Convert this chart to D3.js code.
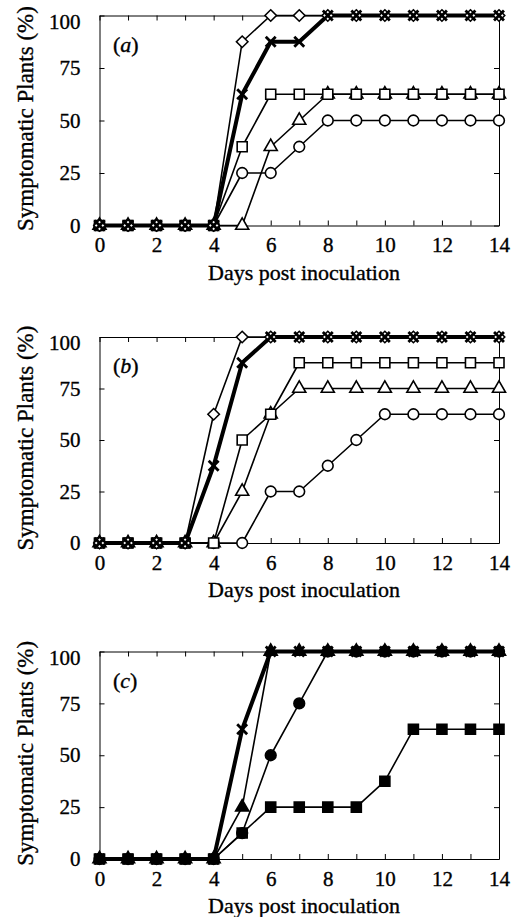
<!DOCTYPE html>
<html><head><meta charset="utf-8">
<script src="https://cdn.jsdelivr.net/npm/d3@7"></script>
<style>
body{margin:0;background:#fff}
svg text{font-family:"Liberation Serif","DejaVu Serif","Times New Roman",Times,serif !important;fill:#000;stroke:#000;stroke-width:0.35px}
</style>
</head><body>
<svg id="chart" width="518" height="917" style="font-family:'Liberation Serif','DejaVu Serif',serif"></svg>
<script>
// ---------- data ----------
const days = [0,1,2,3,4,5,6,7,8,9,10,11,12,13,14];
const xTickLabels = [0,2,4,6,8,10,12,14];
const yTickValues = [0,25,50,75,100];
const panelNames = ["a","b","c"];
const xTitle = "Days post inoculation";
const yTitle = "Symptomatic Plants (%)";

// panel (a) – open symbols
const aCircle   = [0,0,0,0,0,25,25,37.5,50,50,50,50,50,50,50];
const aTriangle = [0,0,0,0,0,0,37.5,50,62.5,62.5,62.5,62.5,62.5,62.5,62.5];
const aSquare   = [0,0,0,0,0,37.5,62.5,62.5,62.5,62.5,62.5,62.5,62.5,62.5,62.5];
const aDiamond  = [0,0,0,0,0,87.5,100,100,100,100,100,100,100,100,100];
const aCross    = [0,0,0,0,0,62.5,87.5,87.5,100,100,100,100,100,100,100];
// panel (b) – open symbols
const bCircle   = [0,0,0,0,0,0,25,25,37.5,50,62.5,62.5,62.5,62.5,62.5];
const bTriangle = [0,0,0,0,0,25,62.5,75,75,75,75,75,75,75,75];
const bSquare   = [0,0,0,0,0,50,62.5,87.5,87.5,87.5,87.5,87.5,87.5,87.5,87.5];
const bDiamond  = [0,0,0,0,62.5,100,100,100,100,100,100,100,100,100,100];
const bCross    = [0,0,0,0,37.5,87.5,100,100,100,100,100,100,100,100,100];
// panel (c) – filled symbols
const cCircle   = [0,0,0,0,0,12.5,50,75,100,100,100,100,100,100,100];
const cTriangle = [0,0,0,0,0,25,100,100,100,100,100,100,100,100,100];
const cSquare   = [0,0,0,0,0,12.5,25,25,25,25,37.5,62.5,62.5,62.5,62.5];
const cCross    = [0,0,0,0,0,62.5,100,100,100,100,100,100,100,100,100];

const panelSeries = [
  [["circle",aCircle],["triangle",aTriangle],["square",aSquare],["diamond",aDiamond],["cross",aCross]],
  [["circle",bCircle],["triangle",bTriangle],["square",bSquare],["diamond",bDiamond],["cross",bCross]],
  [["circle",cCircle],["triangle",cTriangle],["square",cSquare],["cross",cCross]]
];

// ---------- layout ----------
const FONT = "'Liberation Serif','DejaVu Serif','Times New Roman',serif";
const svg = d3.select("#chart");
const xLeft = 99.5, xRight = 499;
const panelY = [[15.5,225.5],[337,543],[651.5,859]];
const filledPanel = [false,false,true];

const symbolType = {
  circle: [d3.symbolCircle, 90],
  triangle: [d3.symbolTriangle, 74],
  square: [d3.symbolSquare, 100],
  diamond: [d3.symbolDiamond2, 84],
  cross: [d3.symbolTimes, 66]
};

panelNames.forEach((name, pi) => {
  const [top, bottom] = panelY[pi];
  const x = d3.scaleLinear().domain([0,14]).range([xLeft, xRight]);
  const y = d3.scaleLinear().domain([0,100]).range([bottom, top]);
  const g = svg.append("g");

  // axes / frame
  const fmtX = d => xTickLabels.includes(d) ? d : "";
  const bottomAx = g.append("g").attr("transform",`translate(0,${bottom})`)
    .call(d3.axisBottom(x).tickValues(days).tickFormat(fmtX).tickSizeInner(-5).tickSizeOuter(0).tickPadding(12));
  g.append("g").attr("transform",`translate(0,${top})`)
    .call(d3.axisTop(x).tickValues(days).tickFormat("").tickSizeInner(-5).tickSizeOuter(0));
  const leftAx = g.append("g").attr("transform",`translate(${xLeft},0)`)
    .call(d3.axisLeft(y).tickValues(yTickValues).tickSizeInner(-5).tickSizeOuter(0).tickPadding(19));
  g.append("g").attr("transform",`translate(${xRight},0)`)
    .call(d3.axisRight(y).tickValues(yTickValues).tickFormat("").tickSizeInner(-5).tickSizeOuter(0));

  g.selectAll("g").attr("font-family", FONT);
  g.selectAll(".domain").attr("stroke","#000").attr("stroke-width",1);
  g.selectAll(".tick line").attr("stroke","#000").attr("stroke-width",1);
  g.selectAll(".tick text").attr("font-size",21).style("font-family",FONT).attr("fill","#000");
  bottomAx.selectAll(".tick text").attr("dy","0.71em");
  leftAx.selectAll(".tick").filter(d => d === 100).select("text").attr("dy","0.6em");

  // titles
  g.append("text").attr("x",304).attr("y",bottom+54).attr("text-anchor","middle")
    .attr("font-size",22).style("font-family",FONT).text(xTitle);
  g.append("text").attr("transform",`translate(33,${(top+bottom)/2 - 2}) rotate(-90)`)
    .attr("text-anchor","middle").attr("font-size",23).style("font-family",FONT).text(yTitle);
  const lab = g.append("text").attr("x",113).attr("y",top+36).attr("font-size",22).style("font-family",FONT);
  lab.append("tspan").text("(");
  lab.append("tspan").attr("font-style","italic").text(name);
  lab.append("tspan").text(")");

  // lines
  const line = d3.line().x((d,i) => x(days[i])).y(d => y(d));
  const series = panelSeries[pi];
  const ordered = series.filter(s => s[0] !== "cross").concat(series.filter(s => s[0] === "cross"));
  ordered.forEach(([shape, vals]) => {
    g.append("path").datum(vals).attr("d", line).attr("fill","none")
      .attr("stroke","#000").attr("stroke-width", shape === "cross" ? 4 : 1.6)
      .attr("stroke-linejoin","round");
  });
  // markers
  ordered.forEach(([shape, vals]) => {
    const [type, size] = symbolType[shape];
    const sym = d3.symbol().type(type).size(size);
    const filled = filledPanel[pi];
    g.append("g").selectAll("path").data(vals).join("path")
      .attr("transform",(d,i) => `translate(${x(days[i])},${y(d)})`)
      .attr("d", sym)
      .attr("fill", shape === "cross" ? "none" : (filled ? "#000" : "#fff"))
      .attr("stroke","#000")
      .attr("stroke-width", shape === "cross" ? 2.8 : 1.6);
  });
});
</script>
</body></html>
